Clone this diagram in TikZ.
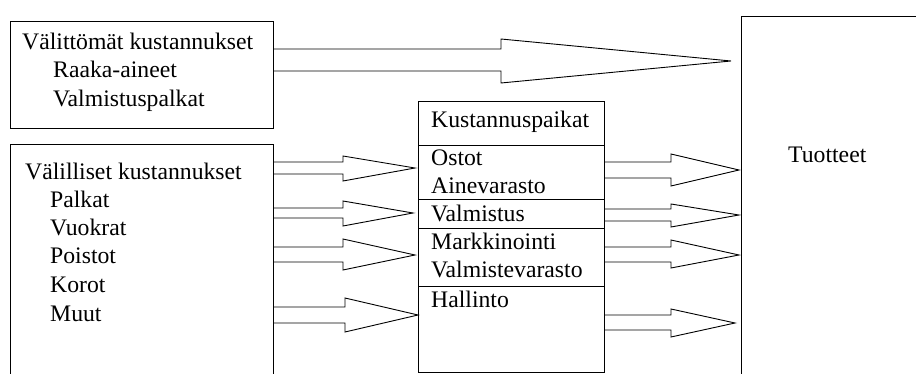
\documentclass[tikz,border=0pt]{standalone}
\usepackage{fontspec}
\setmainfont{Liberation Serif}
\newfontfamily\tnr{Liberation Serif}
\begin{document}
\begin{tikzpicture}[x=1pt,y=-1pt,
  box/.style={draw=black,line width=0.9pt,fill=white},
  lbl/.style={anchor=base west,inner sep=0pt,text=black,font=\tnr\fontsize{23.7}{28}\selectfont},
  barrow/.style={draw=black,line width=0.9pt,line join=miter}]
\useasboundingbox (0,0) rectangle (916,374);
% boxes
\draw[box] (10,21) rectangle (273,128);
\node[inner sep=0pt] (tl) at (141.5,74.5) {};
\draw[box] (10,144) rectangle (273,390);
\node[inner sep=0pt] (bl) at (141.5,260) {};
\draw[box] (418,101) rectangle (604,372);
\node[inner sep=0pt] (mid) at (511,236) {};
\draw[box] (741,16) rectangle (930,390);
\node[inner sep=0pt] (tuo) at (830,200) {};
% separators in middle box
\draw[line width=0.9pt] (418,145) -- (604,145);
\draw[line width=0.9pt] (418,199) -- (604,199);
\draw[line width=0.9pt] (418,228) -- (604,228);
\draw[line width=0.9pt] (418,286) -- (604,286);
% texts
\node[lbl] (t1) at (22,50) {Välittömät kustannukset};
\node[lbl] (t2) at (53,78) {Raaka-aineet};
\node[lbl] (t3) at (53,107) {Valmistuspalkat};
\node[lbl] (b1) at (25,180) {Välilliset kustannukset};
\node[lbl] (b2) at (50,208) {Palkat};
\node[lbl] (b3) at (50,236) {Vuokrat};
\node[lbl] (b4) at (50,264) {Poistot};
\node[lbl] (b5) at (50,293) {Korot};
\node[lbl] (b6) at (50,321) {Muut};
\node[lbl] (m0) at (431,128) {Kustannuspaikat};
\node[lbl] (m1) at (431,166) {Ostot};
\node[lbl] (m2) at (431,194) {Ainevarasto};
\node[lbl] (m3) at (431,222) {Valmistus};
\node[lbl] (m4) at (431,250) {Markkinointi};
\node[lbl] (m5) at (431,278) {Valmistevarasto};
\node[lbl] (m6) at (431,307) {Hallinto};
\node[lbl] (tt) at (788,163) {Tuotteet};
% block arrows: x0, xb, xtip, ys1, ys2, yt, yb, ytip
\newcommand{\blockarr}[8]{%
  \draw[barrow] (#1,#4) -- (#2,#4) -- (#2,#6) -- (#3,#8) -- (#2,#7) -- (#2,#5) -- (#1,#5);}
\blockarr{273}{501}{731}{49}{71}{39}{83}{61}
\blockarr{273}{343}{415}{162}{174}{156}{181}{168}
\blockarr{273}{343}{413}{208}{218}{201}{226}{213}
\blockarr{273}{343}{415}{247}{262}{239}{270}{255}
\blockarr{273}{345}{418}{307}{323}{298}{332}{315}
\blockarr{604}{671}{739}{162}{178}{154}{186}{170}
\blockarr{604}{671}{739}{209}{221}{204}{227}{215}
\blockarr{604}{671}{739}{247}{262}{240}{268}{255}
\blockarr{604}{671}{735}{315}{330}{309}{337}{323}
\end{tikzpicture}
\end{document}
